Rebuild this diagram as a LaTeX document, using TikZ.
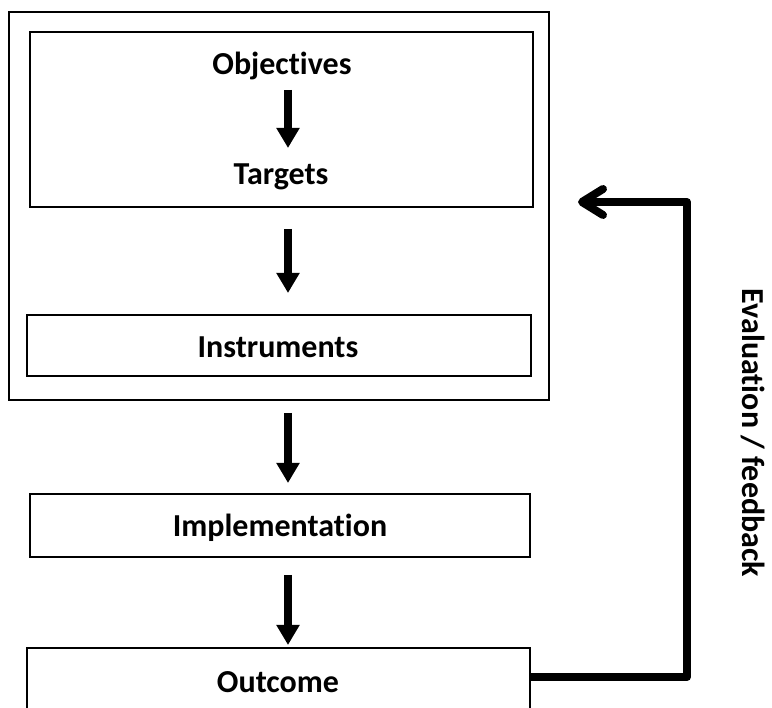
\documentclass[tikz,border=0pt]{standalone}
\usepackage{fontspec}
\setmainfont{Carlito}[Ligatures={NoCommon}]
\usetikzlibrary{arrows.meta,calc}
\tikzset{
  boxthin/.style={draw, line width=2pt, inner sep=0pt, outer sep=0pt},
  boxthick/.style={draw, line width=2.6pt, inner sep=0pt, outer sep=0pt},
  label/.style={inner sep=0pt, anchor=base, font=\fontsize{32}{38}\selectfont\bfseries},
  dnarrow/.style={line width=8pt, -{Triangle[width=22pt,length=20pt]}},
  fbline/.style={line width=8pt, line join=round, -{Straight Barb[length=21pt,width=26pt,round]}}
}
\begin{document}
\begin{tikzpicture}[x=1pt,y=-1pt]
\useasboundingbox (0,0) rectangle (772,708);
\clip (0,0) rectangle (772,708);
% boxes
\node[boxthin, minimum width=540pt, minimum height=388pt] (outer) at (279,206) {};
\node[boxthick, minimum width=503pt, minimum height=175pt] (top) at (281.5,119.5) {};
\node[boxthick, minimum width=504pt, minimum height=61pt] (instr) at (279,345.5) {};
\node[boxthick, minimum width=500pt, minimum height=63pt] (impl) at (280,525.5) {};
\node[boxthick, minimum width=503pt, minimum height=92pt] (out) at (278.5,694) {};
% texts
\node[label] (obj) at (282,75) {Objectives};
\node[label] (tgt) at (281,185) {Targets};
\node[label] (instrt) at (278,358) {Instruments};
\node[label] (implt) at (280,537) {Implementation};
\node[label] (outt) at (278,692) {Outcome};
% arrows
\coordinate (axis) at (288,0);
\draw[dnarrow] ($(obj.base -| axis)+(0,15)$) -- ($(tgt.base -| axis)+(0,-37)$);
\draw[dnarrow, shorten <=22pt, shorten >=22pt] (top.south -| axis) -- (instr.north -| axis);
\draw[dnarrow, shorten <=13pt, shorten >=11pt] (outer.south -| axis) -- (impl.north -| axis);
\draw[dnarrow, shorten <=18pt, shorten >=3pt] (impl.south -| axis) -- (out.north -| axis);
% feedback
\coordinate (fbA) at (687,677);
\coordinate (fbB) at (687,202);
\coordinate (fbend) at (578,202);
\draw[fbline] (out.east |- fbA) -- (fbA) -- (fbB) -- (fbend);
\node[inner sep=0pt, rotate=-90, font=\fontsize{32}{38}\selectfont\bfseries] (fbl) at (753,433) {Evaluation / feedback};
\end{tikzpicture}
\end{document}
